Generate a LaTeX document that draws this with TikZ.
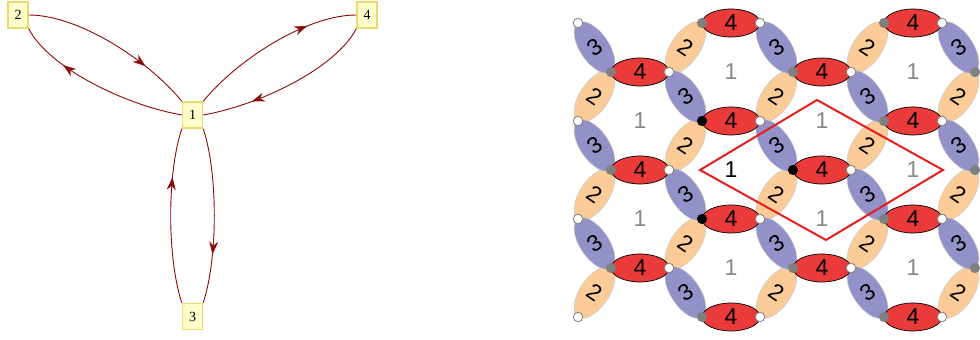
\documentclass[tikz,border=0pt]{standalone}
\usepackage{fontspec}
\setmainfont{Liberation Serif}
\newfontfamily\tilefont{Liberation Sans}
\usetikzlibrary{arrows.meta,decorations.markings}
\definecolor{edgered}{RGB}{139,10,10}
\definecolor{nodefill}{RGB}{255,255,204}
\definecolor{nodeborder}{RGB}{240,214,110}
\definecolor{redfill}{RGB}{234,58,58}
\definecolor{orangefill}{RGB}{252,204,152}
\definecolor{bluefill}{RGB}{146,146,200}
\definecolor{facegray}{RGB}{136,136,136}
\definecolor{dotgray}{RGB}{128,128,128}
\definecolor{rhomb}{RGB}{230,30,30}
\definecolor{ellline}{RGB}{200,200,200}
\begin{document}
\begin{tikzpicture}[x=1pt,y=1pt,
  gnode/.style={draw=nodeborder, line width=1.4pt, fill=nodefill, minimum width=20pt, minimum height=26pt, inner sep=0pt, font=\fontsize{14}{14}\selectfont},
  gedge/.style={draw=edgered, line width=0.9pt, postaction={decorate},
    decoration={markings, mark=at position 0.72 with {\arrow[edgered]{Stealth[length=13pt,width=9pt]}}}},
  redell/.style={fill=redfill, draw=black, line width=0.7pt},
  orangeell/.style={fill=orangefill, draw=ellline, line width=0.5pt},
  blueell/.style={fill=bluefill, draw=ellline, line width=0.5pt},
  lab/.style={font=\tilefont\fontsize{23}{23}\selectfont, text=black, inner sep=0pt},
  facelab/.style={font=\tilefont\fontsize{23}{23}\selectfont, text=facegray, inner sep=0pt},
  graydot/.style={fill=dotgray, draw=dotgray, line width=0.5pt},
  whitedot/.style={fill=white, draw=dotgray, line width=0.8pt},
  blackdot/.style={fill=black, draw=black, line width=0.5pt},
  cellline/.style={draw=rhomb, line width=2pt, line join=miter}
]
\useasboundingbox (0,0) rectangle (980,340);

% ---------------- left graph ----------------
\node[gnode] (n1) at (192.5,225) {1};
\node[gnode] (n2) at (18,325) {2};
\node[gnode] (n3) at (192.5,23.5) {3};
\node[gnode] (n4) at (367,325) {4};

\draw[gedge] (n2.east) .. controls (80,325) and (150,278) .. (n1.north west);
\draw[gedge] (n1.west) .. controls (125,235) and (49,272) .. (n2.south east);
\draw[gedge] (n1.north east) .. controls (235,278) and (305,325) .. (n4.west);
\draw[gedge] (n4.south west) .. controls (336,272) and (260,235) .. (n1.east);
\draw[gedge] (n3.north west) .. controls (167,82) and (167,167) .. (n1.south west);
\draw[gedge] (n1.south east) .. controls (218,167) and (218,82) .. (n3.north east);

% ---------------- right tiling ----------------
% orange edges (/)
\foreach \a/\b in {0/0,2/0,-1/1,1/1,3/1,0/2,2/2,-1/3,1/3,3/3,0/4,2/4,-1/5,1/5,3/5}{
  \path[orangeell, shift={({685.5+91*\a},{292.5-49*\b})}, rotate=56] (0,0) ellipse (29.5pt and 14.5pt);
  \node[lab, rotate=-34] (o\a\b) at ({685.5+91*\a},{292.5-49*\b}) {2};
}
% blue edges (\)
\foreach \a/\b in {-1/1,1/1,3/1,0/2,2/2,-1/3,1/3,3/3,0/4,2/4,-1/5,1/5,3/5,0/6,2/6}{
  \path[blueell, shift={({685.5+91*\a},{341.5-49*\b})}, rotate=-56] (0,0) ellipse (29.5pt and 14.5pt);
  \node[lab, rotate=34] (b\a\b) at ({685.5+91*\a},{341.5-49*\b}) {3};
}
% red edges (horizontal)
\foreach \a/\b in {0/0,2/0,-1/1,1/1,0/2,2/2,-1/3,1/3,0/4,2/4,-1/5,1/5,0/6,2/6}{
  \path[redell] ({731+91*\a},{317-49*\b}) ellipse (29pt and 14pt);
  \node[lab] (r\a\b) at ({731+91*\a},{317-49*\b}) {4};
}
% face labels
\foreach \a/\b in {2/0,-1/1,1/1,2/2,-1/3,1/3,0/4,2/4,0/0}{
  \node[facelab] (f\a\b) at ({731+91*\a},{268-49*\b}) {1};
}
\node[lab] (f02) at (731,170) {1};

% fundamental domain
\draw[cellline] (700,170) -- (817,240) -- (943,170) -- (826,100) -- cycle;

% vertices
\foreach \a/\b in {0/0,2/0,-1/1,1/1,3/1,2/2,-1/3,3/3,2/4,-1/5,1/5,3/5,0/6,2/6}{
  \path[graydot] ({702+91*\a},{317-49*\b}) circle (4.8pt);
}
\foreach \a/\b in {0/2,1/3,0/4}{
  \path[blackdot] ({702+91*\a},{317-49*\b}) circle (4.8pt);
}
\foreach \a/\b in {-2/0,0/0,2/0,-1/1,1/1,-2/2,0/2,2/2,-1/3,1/3,-2/4,0/4,2/4,-1/5,1/5,-2/6,0/6,2/6}{
  \path[whitedot] ({760+91*\a},{317-49*\b}) circle (4.8pt);
}
\end{tikzpicture}
\end{document}
